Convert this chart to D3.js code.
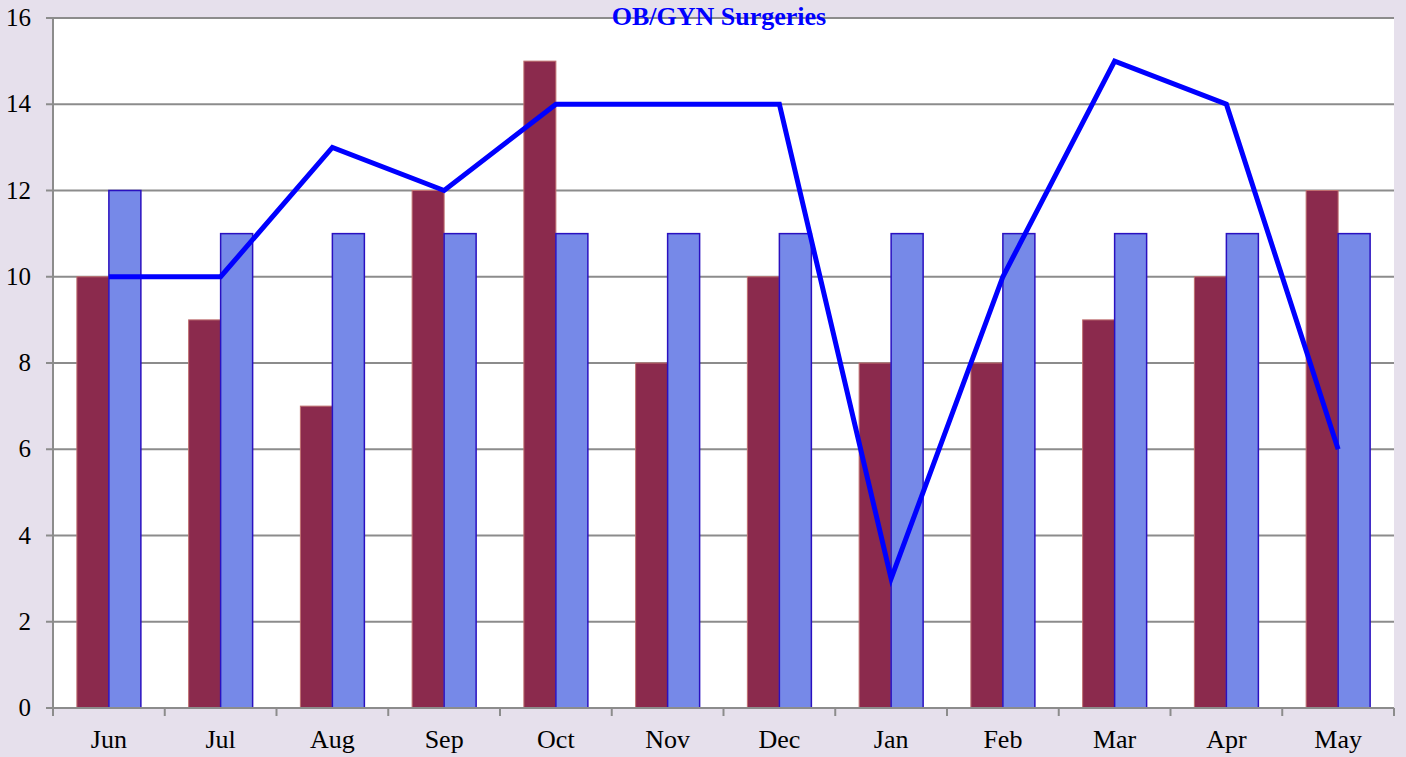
<!DOCTYPE html>
<html><head><meta charset="utf-8">
<script src="https://cdn.jsdelivr.net/npm/d3@7"></script>
<style>html,body{margin:0;padding:0;background:#E6E0EC;}svg{display:block;}</style>
</head><body>
<svg id="c" width="1406" height="757"></svg>
<script>
const months = ["Jun","Jul","Aug","Sep","Oct","Nov","Dec","Jan","Feb","Mar","Apr","May"];
const seriesA = [10,9,7,12,15,8,10,8,8,9,10,12];
const seriesB = [12,11,11,11,11,11,11,11,11,11,11,11];
const lineVals = [10,10,13,12,14,14,14,3,10,15,14,6];
const yTicks = [0,2,4,6,8,10,12,14,16];
const title = "OB/GYN Surgeries";

const svg = d3.select("#c");
const L=53, R=1394, T=18, B=708;
const x = d3.scaleBand().domain(months).range([L,R]);
const y = d3.scaleLinear().domain([0,16]).range([B,T]);
const bw = 32;
const FONT = "'Liberation Serif', 'Times New Roman', serif";

svg.append("rect").attr("x",L).attr("y",T).attr("width",R-L).attr("height",B-T).attr("fill","#fff");

const g = svg.append("g");
g.selectAll("line.grid").data(yTicks).join("line")
  .attr("x1",L-7).attr("x2",R).attr("y1",d=>y(d)).attr("y2",d=>y(d))
  .attr("stroke","#8c8c8c").attr("stroke-width",2);

svg.append("g").selectAll("rect").data(months).join("rect")
  .attr("x",d=>x(d)+x.bandwidth()/2-bw).attr("y",(d,i)=>y(seriesA[i]))
  .attr("width",bw).attr("height",(d,i)=>B-y(seriesA[i]))
  .attr("fill","#8B2A4D").attr("stroke","#c07070").attr("stroke-width",1);

svg.append("g").selectAll("rect").data(months).join("rect")
  .attr("x",d=>x(d)+x.bandwidth()/2).attr("y",(d,i)=>y(seriesB[i]))
  .attr("width",bw).attr("height",(d,i)=>B-y(seriesB[i]))
  .attr("fill","#7689E8").attr("stroke","#2a10c0").attr("stroke-width",1.5);

// axes
svg.append("line").attr("x1",L).attr("x2",L).attr("y1",T).attr("y2",B).attr("stroke","#8c8c8c").attr("stroke-width",2);
svg.append("line").attr("x1",L-7).attr("x2",R).attr("y1",B).attr("y2",B).attr("stroke","#8c8c8c").attr("stroke-width",2);
const bounds = months.map(m=>x(m)).concat([R]);
svg.append("g").selectAll("line").data(bounds).join("line")
  .attr("x1",d=>d).attr("x2",d=>d).attr("y1",B).attr("y2",B+8)
  .attr("stroke","#8c8c8c").attr("stroke-width",2);

svg.append("g").selectAll("text").data(yTicks).join("text")
  .attr("x",31).attr("y",d=>y(d)+8).attr("text-anchor","end")
  .attr("font-family",FONT).attr("font-size",25).attr("fill","#000")
  .text(d=>d);

svg.append("g").selectAll("text").data(months).join("text")
  .attr("x",d=>x(d)+x.bandwidth()/2).attr("y",748).attr("text-anchor","middle")
  .attr("font-family",FONT).attr("font-size",26).attr("fill","#000")
  .text(d=>d);

const line = d3.line().x((d,i)=>x(months[i])+x.bandwidth()/2).y(d=>y(d));
svg.append("path").datum(lineVals).attr("d",line).attr("fill","none")
  .attr("stroke","#0000FF").attr("stroke-width",5).attr("stroke-linejoin","miter");

svg.append("text").attr("x",719).attr("y",25).attr("text-anchor","middle")
  .attr("font-family",FONT).attr("font-weight","bold").attr("font-size",26)
  .attr("fill","#0000FF").text(title);
</script>
</body></html>
